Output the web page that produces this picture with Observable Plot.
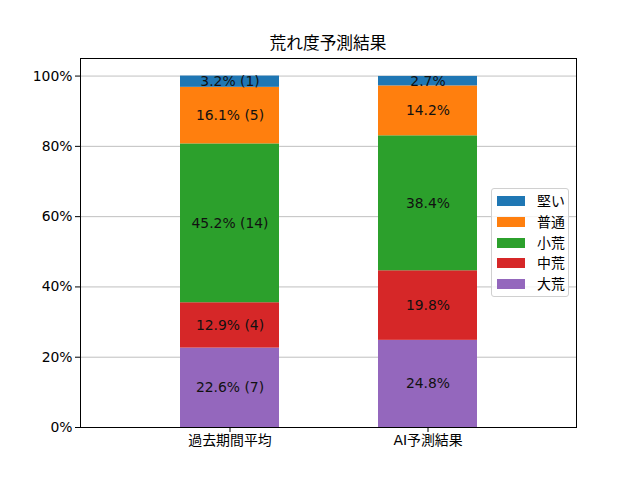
<!DOCTYPE html>
<html><head><meta charset="utf-8">
<script src="https://cdn.jsdelivr.net/npm/d3@7"></script>
<script src="https://cdn.jsdelivr.net/npm/@observablehq/plot@0.6"></script>
<style>
body{margin:0;background:#fff;}
#wrap{position:relative;width:640px;height:480px;font-family:"DejaVu Sans","Noto Sans CJK JP",sans-serif;color:#000;}
#title{position:absolute;left:80px;width:496px;top:35px;line-height:17px;text-align:center;font-size:16.7px;}
#legend{position:absolute;left:491px;top:188px;width:78px;height:109px;border:1px solid #d0d0d0;border-radius:3px;background:rgba(255,255,255,0.8);box-sizing:border-box;font-size:13.9px;}
.item{position:absolute;left:5px;height:20px;line-height:20px;}
.sw{position:absolute;left:0;top:5px;width:28px;height:10px;}
.lb{position:absolute;left:40px;top:0;white-space:nowrap;}
</style>
</head><body>
<div id="wrap"><div id="title">荒れ度予測結果</div><div id="chart"></div><div id="legend"></div></div>
<script>
const categories = ["過去期間平均", "AI予測結果"];
const levels = ["大荒", "中荒", "小荒", "普通", "堅い"]; // bottom to top
const colors = ["#9467bd", "#d62728", "#2ca02c", "#ff7f0e", "#1f77b4"];
const pastValues = [22.6, 12.9, 45.2, 16.1, 3.2];
const pastCounts = [7, 4, 14, 5, 1];
const aiValues = [24.8, 19.8, 38.4, 14.2, 2.7];
const yTicks = [0, 20, 40, 60, 80, 100];

const data = [];
levels.forEach((lv, i) => {
  data.push({cat: categories[0], level: lv, value: pastValues[i], label: `${pastValues[i].toFixed(1)}% (${pastCounts[i]})`});
});
levels.forEach((lv, i) => {
  data.push({cat: categories[1], level: lv, value: aiValues[i], label: `${aiValues[i].toFixed(1)}%`});
});

const plot = Plot.plot({
  width: 640, height: 480,
  marginLeft: 80, marginRight: 64, marginTop: 58, marginBottom: 53,
  style: {fontFamily: '"DejaVu Sans","Noto Sans CJK JP",sans-serif', fontSize: "13.9px", background: "white", color: "black"},
  x: {domain: categories, paddingInner: 0.5, paddingOuter: 0.5, label: null},
  y: {domain: [0, 105], label: null},
  color: {domain: levels, range: colors},
  marks: [
    Plot.gridY(yTicks, {stroke: "#b0b0b0", strokeOpacity: 1, strokeWidth: 0.8}),
    Plot.barY(data, {x: "cat", y: "value", fill: "level", z: "level", order: levels}),
    Plot.text(data, Plot.stackY({x: "cat", y: "value", z: "level", order: levels, text: "label", fill: "#111", fontSize: 13.9})),
    Plot.frame({stroke: "black", strokeWidth: 1}),
    Plot.axisX({tickSize: 5, tickPadding: 3, fontSize: 13.9}),
    Plot.axisY(yTicks, {tickSize: 5, tickPadding: 3, fontSize: 13.9, tickFormat: d => d + "%"})
  ]
});
document.getElementById("chart").appendChild(plot);

const legend = document.getElementById("legend");
const order = levels.slice().reverse();
order.forEach((lv, i) => {
  const it = document.createElement("div");
  it.className = "item";
  it.style.top = (2 + i * 20.8) + "px";
  const sw = document.createElement("div");
  sw.className = "sw";
  sw.style.background = colors[levels.indexOf(lv)];
  const lb = document.createElement("div");
  lb.className = "lb";
  lb.textContent = lv;
  it.appendChild(sw); it.appendChild(lb);
  legend.appendChild(it);
});
</script>
</body></html>
